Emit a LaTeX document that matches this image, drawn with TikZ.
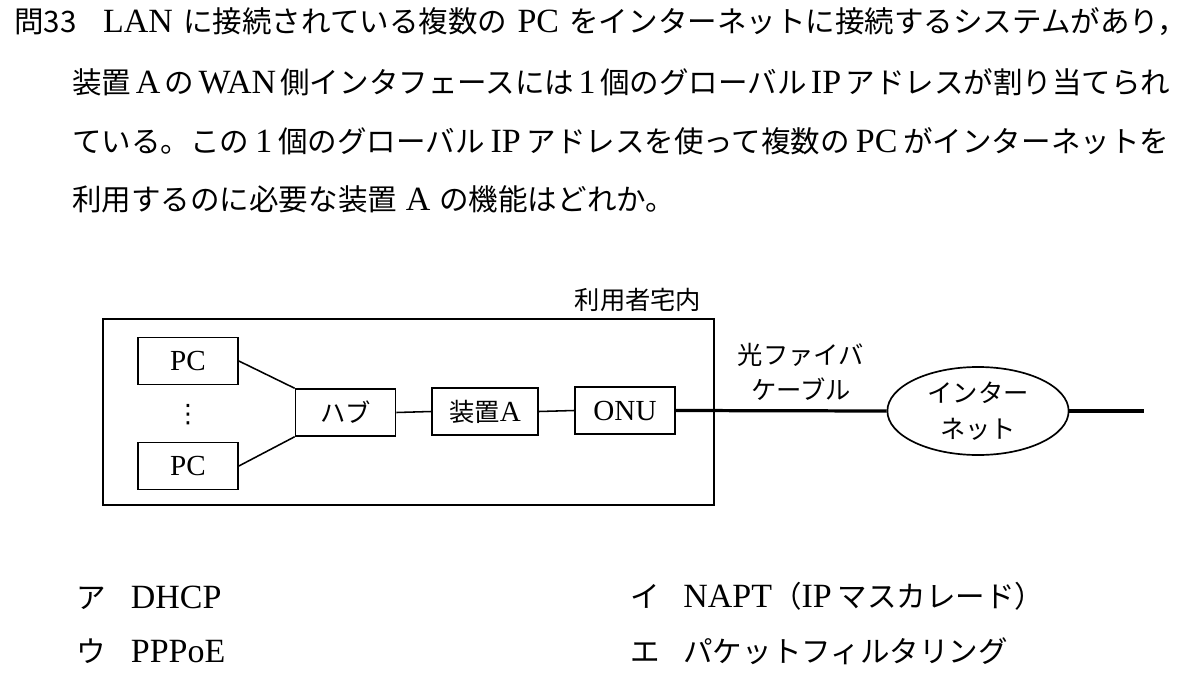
\documentclass[tikz,border=0pt]{standalone}
\usepackage{fontspec}
\setmainfont{Noto Sans CJK JP}
\newfontfamily\lat[Scale=1.15]{Liberation Serif}
\newfontfamily\sym{DejaVu Sans}
\usepackage{tikz}
\usetikzlibrary{shapes,arrows,positioning}

\tikzset{
    qtext/.style={anchor=west,inner sep=0pt,text height=0.88em,text depth=0.12em,font=\fontsize{21}{25}\selectfont},
    dev/.style={draw,line width=1.2pt,minimum width=2.5cm,minimum height=1.17cm,inner sep=0pt,font=\fontsize{18}{22}\selectfont},
    dlabel/.style={inner sep=0pt,align=center,font=\fontsize{18}{24.8}\selectfont},
    link/.style={line width=1.1pt},
    fiber/.style={line width=2.3pt}
}

\begin{document}
\begin{tikzpicture}[x=0.025cm,y=-0.025cm]
    \useasboundingbox (0,0) rectangle (1200,690);

    % question
    \node (q1) [qtext] at (14,27) {問33\hspace{0.9em}{\lat LAN}\hspace{0.35em}に接続されている複数の\hspace{0.35em}{\lat PC}\hspace{0.35em}をインターネットに接続するシステムがあり，};
    \node (q2) [qtext] at (72,88) {装置\hspace{0.15em}{\lat A}\hspace{0.15em}の\hspace{0.15em}{\lat WAN}\hspace{0.15em}側インタフェースには\hspace{0.15em}{\lat 1}\hspace{0.15em}個のグローバル\hspace{0.15em}{\lat IP}\hspace{0.15em}アドレスが割り当てられ};
    \node (q3) [qtext] at (72,147) {ている。この\hspace{0.2em}{\lat 1}\hspace{0.2em}個のグローバル\hspace{0.2em}{\lat IP}\hspace{0.2em}アドレスを使って複数の\hspace{0.2em}{\lat PC}\hspace{0.2em}がインターネットを};
    \node (q4) [qtext] at (72,205) {利用するのに必要な装置\hspace{0.3em}{\lat A}\hspace{0.3em}の機能はどれか。};

    % figure
    \node (home) [draw,line width=1.2pt,minimum width=15.275cm,minimum height=4.65cm] at (408.5,412) {};
    \node (homelbl) [dlabel] at (638,300) {利用者宅内};

    \node (pc1) [dev] at (188,361) {\lat PC};
    \node (dots) [inner sep=0pt,font=\sym\fontsize{18}{18}\selectfont] at (188,415) {⋮};
    \node (pc2) [dev] at (188,466) {\lat PC};
    \node (hub) [dev] at (345.5,412.5) {ハブ};
    \node (devA) [dev,minimum width=2.65cm] at (485,411.5) {装置{\lat A}};
    \node (onu) [dev] at (625,410.5) {\lat ONU};

    \draw[link] (pc1.east) -- (hub.north west);
    \draw[link] (pc2.east) -- (hub.south west);
    \draw[link] (hub.east) -- (devA.west);
    \draw[link] (devA.east) -- (onu.west);

    \node (fiberlbl) [dlabel] at (801,372) {光ファイバ\\ケーブル};
    \node (inet) [ellipse,draw,line width=1.2pt,minimum width=4.53cm,minimum height=2.2cm,inner sep=0pt,align=center,font=\fontsize{18}{26}\selectfont] at (978,411) {インター\\ネット};
    \coordinate (inetend) at (1144,411);
    \draw[fiber] (onu.east) -- (inet.west);
    \draw[fiber] (inet.east) -- (inetend);

    % answers
    \node (ansA) [qtext] at (76,603) {ア\hspace{0.85em}{\lat DHCP}};
    \node (ansB) [qtext] at (630,602) {イ\hspace{0.8em}{\lat NAPT}（{\lat IP}\hspace{0.2em}マスカレード）};
    \node (ansC) [qtext] at (76,657) {ウ\hspace{0.85em}{\lat PPPoE}};
    \node (ansD) [qtext] at (630,657) {エ\hspace{0.8em}パケットフィルタリング};

\end{tikzpicture}
\end{document}
